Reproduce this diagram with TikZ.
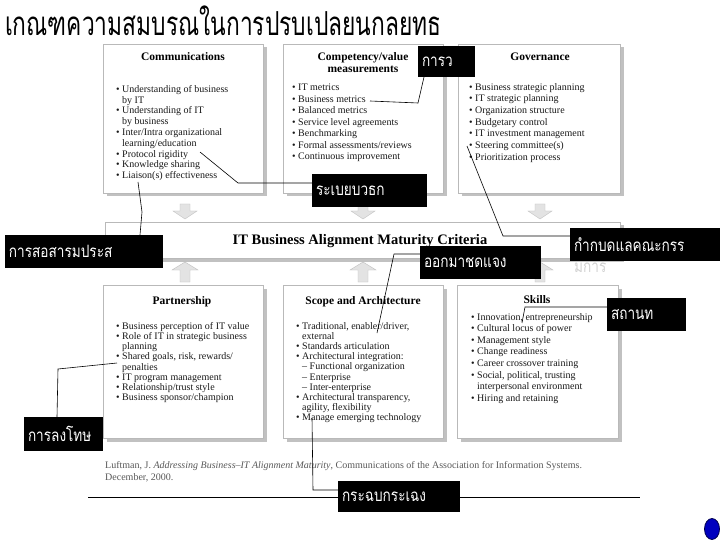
\documentclass[tikz,border=0pt]{standalone}
\usepackage{fontspec}
\usepackage{graphicx}
\setmainfont{Liberation Serif}
\newfontfamily\thai[Script=Thai]{Loma}
\newfontfamily\thaic[Script=Thai, FakeStretch=0.8]{Loma}
\usetikzlibrary{shadows,calc}
\newcommand\bux{\textbullet\ }
\newcommand\hix{\hphantom{\textbullet\ }}
\begin{document}
\begin{tikzpicture}[x=1pt,y=-1pt,
  box/.style={draw=gray!55, fill=white, line width=0.6pt, anchor=north west, inner sep=0pt, outer sep=0pt,
    drop shadow={shadow xshift=3.5pt, shadow yshift=-3.5pt, fill=gray!80, opacity=0.6}},
  ttl/.style={font=\bfseries\fontsize{11.5}{12}\selectfont, align=center, inner sep=0pt, text=black},
  lst/.style={anchor=north west, inner sep=0pt, align=left, text=black!90},
  lbl/.style={fill=black, text=white, anchor=north west, inner xsep=4pt, inner ysep=0pt, outer sep=0pt, align=left,
    font=\thaic\fontsize{17}{20}\selectfont},
  conn/.style={draw=black, line width=0.6pt},
  blk/.style={fill=gray!22, draw=gray!50, line width=0.4pt}]
\useasboundingbox (0,0) rectangle (720,540);
\fill[white] (0,0) rectangle (720,540);
% title
\node[anchor=west, inner sep=0pt, font=\thai\fontsize{22.8}{26}\selectfont] (title) at (5,21) {\scalebox{1}[1.45]{เกณฑความสมบรณในการปรบเปลยนกลยทธ}};
% top boxes
\node[box, minimum width=160pt, minimum height=149pt] (comm) at (103,44) {};
\node[box, minimum width=160pt, minimum height=149pt] (comp) at (283,44) {};
\node[box, minimum width=162pt, minimum height=149pt] (gov) at (458,44) {};
% bar
\node[box, minimum width=515pt, minimum height=36pt] (bar) at (105,222) {};
\node[font=\bfseries\fontsize{14.5}{16}\selectfont, inner sep=0pt, text=black] (bartxt) at (360,241) {IT Business Alignment Maturity Criteria};
% bottom boxes
\node[box, minimum width=160pt, minimum height=153pt] (part) at (103,285) {};
\node[box, minimum width=160pt, minimum height=153pt] (scope) at (283,285) {};
\node[box, minimum width=161pt, minimum height=153pt] (skill) at (457,285) {};
% block arrows
\foreach \x in {185,363,540} {
  \filldraw[blk] (\x-5,204) -- (\x+5,204) -- (\x+5,211) -- (\x+12,211) -- (\x,219) -- (\x-12,211) -- (\x-5,211) -- cycle;
  \filldraw[blk] (\x-5,282) -- (\x+5,282) -- (\x+5,270) -- (\x+13,270) -- (\x,262) -- (\x-13,270) -- (\x-5,270) -- cycle;
}
% box contents
\node[ttl] (commt) at (183,57) {Communications};
\node[lst, font=\fontsize{10}{10.8}\selectfont] (commL) at (116,85) {\bux Understanding of business\\\hix by IT\\\bux Understanding of IT\\\hix by business\\\bux Inter/Intra organizational\\\hix learning/education\\\bux Protocol rigidity\\\bux Knowledge sharing\\\bux Liaison(s) effectiveness};
\node[ttl] (compt) at (363,62.5) {Competency/value\\measurements};
\node[lst, font=\fontsize{10}{11.5}\selectfont] (compL) at (292,84) {\bux IT metrics\\\bux Business metrics\\\bux Balanced metrics\\\bux Service level agreements\\\bux Benchmarking\\\bux Formal assessments/reviews\\\bux Continuous improvement};
\node[ttl] (govt) at (540,57) {Governance};
\node[lst, font=\fontsize{10}{11.7}\selectfont] (govL) at (469,83) {\bux Business strategic planning\\\bux IT strategic planning\\\bux Organization structure\\\bux Budgetary control\\\bux IT investment management\\\bux Steering committee(s)\\\bux Prioritization process};
\node[ttl] (partt) at (182,302) {Partnership};
\node[lst, font=\fontsize{10}{10.2}\selectfont] (partL) at (116,322) {\bux Business perception of IT value\\\bux Role of IT in strategic business\\\hix planning\\\bux Shared goals, risk, rewards/\\\hix penalties\\\bux IT program management\\\bux Relationship/trust style\\\bux Business sponsor/champion};
\node[ttl] (scopet) at (363,302) {Scope and Architecture};
\node[lst, font=\fontsize{10}{10.2}\selectfont] (scopeL) at (296,322) {\bux Traditional, enabler/driver,\\\hix external\\\bux Standards articulation\\\bux Architectural integration:\\\hix -- Functional organization\\\hix -- Enterprise\\\hix -- Inter-enterprise\\\bux Architectural transparency,\\\hix agility, flexibility\\\bux Manage emerging technology};
\node[ttl] (skillt) at (537,300) {Skills};
\node[lst, font=\fontsize{10}{11.6}\selectfont] (skillL) at (471,313) {\bux Innovation, entrepreneurship\\\bux Cultural locus of power\\\bux Management style\\\bux Change readiness\\\bux Career crossover training\\\bux Social, political, trusting\\\hix interpersonal environment\\\bux Hiring and retaining};
% citation
\node[lst, font=\fontsize{10}{12}\selectfont, text=black!65] (cite) at (105,461) {Luftman, J. \textit{Addressing Business--IT Alignment Maturity}, Communications of the Association for Information Systems.\\December, 2000.};
% separator line
\draw[line width=0.9pt] (88,497) -- (640,497);
% labels
\node[lbl, minimum width=57pt, minimum height=31pt, text width=49pt] (kw) at (418,46) {การว};
\node[lbl, minimum width=115pt, minimum height=33pt, text width=107pt] (rb) at (312,174) {ระเบยบวธก};
\node[lbl, minimum width=158pt, minimum height=33pt, text width=150pt] (ce) at (5,235) {การสอสารมประส};
\node[lbl, minimum width=121pt, minimum height=33pt, text width=113pt] (oc) at (420,246) {ออกมาชดแจง};
\node[lbl, minimum width=150pt, minimum height=33pt, text width=142pt] (kb) at (570,228) {กำกบดแลคณะกรร};
\node[anchor=west, inner sep=0pt, text=gray!35, font=\thaic\fontsize{17}{20}\selectfont] (kb2) at (574,268) {มการ};
\node[lbl, minimum width=79pt, minimum height=33pt, text width=71pt] (sn) at (607,298) {สถานท};
\node[lbl, minimum width=79pt, minimum height=34pt, text width=71pt] (lt) at (24,417) {การลงโทษ};
\node[lbl, minimum width=122pt, minimum height=31pt, text width=114pt] (gb) at (338,481) {กระฉบกระเฉง};
% connectors
\coordinate (p1) at (200,152); \coordinate (p1b) at (238,183);
\draw[conn] (p1) -- (p1b) -- (rb.west |- p1b);
\coordinate (p2) at (138,182); \coordinate (p2b) at (142,212);
\draw[conn] (p2) -- (p2b) -- (ce.north -| 140,0);
\coordinate (p3) at (370,101); \coordinate (p3b) at (418,103);
\draw[conn] (p3) -- (p3b) -- (kw.south -| 424,0);
\coordinate (p4) at (467,146); \coordinate (p4b) at (503,236);
\draw[conn] (p4) -- (p4b) -- (kb.west |- p4b);
\coordinate (p5) at (377,333); \coordinate (p5b) at (394,254);
\draw[conn] (p5) -- (p5b) -- (oc.west |- p5b);
\coordinate (p6) at (522,323); \coordinate (p6b) at (525,307);
\draw[conn] (p6) -- (p6b) -- (sn.west |- p6b);
\coordinate (p7) at (117,363); \coordinate (p7b) at (58,369);
\draw[conn] (p7) -- (p7b) -- (lt.north -| 57,0);
\coordinate (p8) at (312,418); \coordinate (p8b) at (313,490);
\draw[conn] (p8) -- (p8b) -- (gb.west |- p8b);
% blue dot
\draw[fill=blue!75!black, draw=blue!30!black, line width=0.8pt] (712,529) ellipse [x radius=7.5, y radius=10.5];
\end{tikzpicture}
\end{document}
